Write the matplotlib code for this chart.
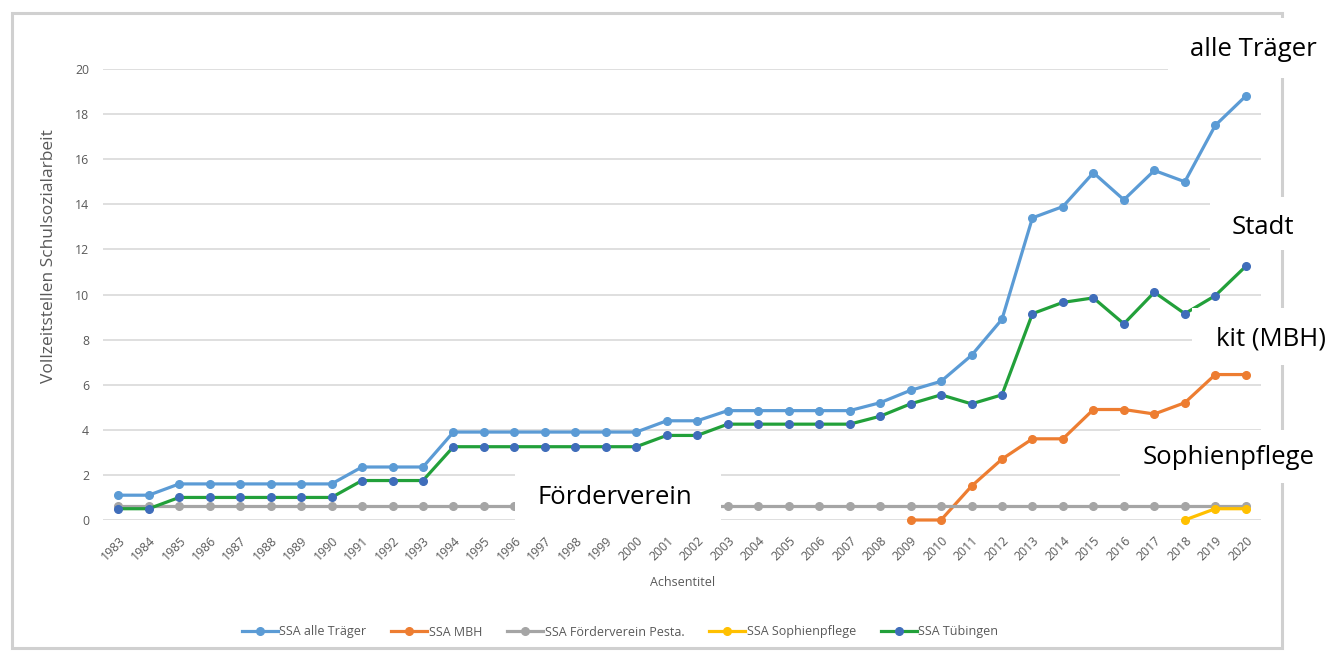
import matplotlib
matplotlib.use("Agg")
import matplotlib.pyplot as plt
from matplotlib.patches import Rectangle
from matplotlib.lines import Line2D

# ---------------- data ----------------
years = [1983, 1984, 1985, 1986, 1987, 1988, 1989, 1990, 1991, 1992,
         1993, 1994, 1995, 1996, 1997, 1998, 1999, 2000, 2001, 2002,
         2003, 2004, 2005, 2006, 2007, 2008, 2009, 2010, 2011, 2012,
         2013, 2014, 2015, 2016, 2017, 2018, 2019, 2020]

alle_traeger = [1.1, 1.1, 1.6, 1.6, 1.6, 1.6, 1.6, 1.6, 2.35, 2.35,
                2.35, 3.9, 3.9, 3.9, 3.9, 3.9, 3.9, 3.9, 4.4, 4.4,
                4.85, 4.85, 4.85, 4.85, 4.85, 5.2, 5.75, 6.15, 7.3, 8.9,
                13.4, 13.9, 15.4, 14.2, 15.5, 15.0, 17.5, 18.8]

mbh_years = [2009, 2010, 2011, 2012, 2013, 2014, 2015, 2016, 2017, 2018, 2019, 2020]
mbh = [0.0, 0.0, 1.5, 2.7, 3.6, 3.6, 4.9, 4.9, 4.7, 5.2, 6.45, 6.45]

foerderverein = [0.6, 0.6, 0.6, 0.6, 0.6, 0.6, 0.6, 0.6, 0.6, 0.6,
                 0.6, 0.6, 0.6, 0.6, 0.6, 0.6, 0.6, 0.6, 0.6, 0.6,
                 0.6, 0.6, 0.6, 0.6, 0.6, 0.6, 0.6, 0.6, 0.6, 0.6,
                 0.6, 0.6, 0.6, 0.6, 0.6, 0.6, 0.6, 0.6]

soph_years = [2018, 2019, 2020]
sophienpflege = [0.0, 0.5, 0.5]

tuebingen = [0.5, 0.5, 1.0, 1.0, 1.0, 1.0, 1.0, 1.0, 1.75, 1.75,
             1.75, 3.25, 3.25, 3.25, 3.25, 3.25, 3.25, 3.25, 3.75, 3.75,
             4.25, 4.25, 4.25, 4.25, 4.25, 4.6, 5.15, 5.55, 5.15, 5.55,
             9.15, 9.65, 9.85, 8.7, 10.1, 9.15, 9.95, 11.25]

legend_labels = ["SSA alle Träger", "SSA MBH", "SSA Förderverein Pesta.",
                 "SSA Sophienpflege", "SSA Tübingen"]
y_ticks = [0, 2, 4, 6, 8, 10, 12, 14, 16, 18, 20]
y_label = "Vollzeitstellen Schulsozialarbeit"
x_label = "Achsentitel"
annotations = ["alle Träger", "Stadt", "kit (MBH)", "Sophienpflege", "Förderverein"]

# ---------------- style ----------------
plt.rcParams['font.family'] = ['Open Sans', 'DejaVu Sans']
W, H = 1329, 651
fig = plt.figure(figsize=(W / 100, H / 100), dpi=100)
fig.patch.set_facecolor('white')

def fx(px):
    return px / W

def fy(py):
    return 1 - py / H

ax = fig.add_axes([fx(103), fy(520), fx(1261) - fx(103), fy(69) - fy(520)])
ax.set_facecolor('white')

c_alle = '#5B9BD5'
c_mbh = '#ED7D31'
c_foe = '#A5A5A5'
c_soph = '#FFC000'
c_tue_line = '#22A03A'
c_tue_mark = '#3F6DBA'
lw = 2.3
ms = 5.5

ax.plot(years, alle_traeger, color=c_alle, lw=lw, marker='o', ms=ms, zorder=3, clip_on=False)
ax.plot(mbh_years, mbh, color=c_mbh, lw=lw, marker='o', ms=ms, zorder=3, clip_on=False)
ax.plot(years, foerderverein, color=c_foe, lw=lw, marker='o', ms=ms, zorder=3, clip_on=False)
ax.plot(soph_years, sophienpflege, color=c_soph, lw=lw, marker='o', ms=ms, zorder=3, clip_on=False)
ax.plot(years, tuebingen, color=c_tue_line, lw=lw, marker='o', ms=ms,
        mfc=c_tue_mark, mec=c_tue_mark, zorder=3, clip_on=False)

ax.set_xlim(years[0] - 0.5, years[-1] + 0.5)
ax.set_ylim(0, 20)
ax.set_yticks(y_ticks)
ax.set_yticklabels([str(v) for v in y_ticks])
ax.set_xticks(years)
ax.set_xticklabels([str(y) for y in years], rotation=45, ha='right', va='top',
                   rotation_mode='anchor')
ax.grid(axis='y', color='#D9D9D9', lw=1.2, zorder=0)
ax.set_axisbelow(True)
for s in ax.spines.values():
    s.set_visible(False)
ax.tick_params(axis='both', length=0, colors='#595959', labelsize=8.8)
ax.tick_params(axis='y', pad=10)
ax.tick_params(axis='x', pad=10)

fig.text(fx(49), fy(256), y_label, rotation=90, ha='center', va='center',
         fontsize=12.5, color='#595959')
fig.text(fx(683), fy(583), x_label, ha='center', va='center',
         fontsize=9, color='#595959')

# legend
handles = [
    Line2D([], [], color=c_alle, lw=lw, marker='o', ms=ms),
    Line2D([], [], color=c_mbh, lw=lw, marker='o', ms=ms),
    Line2D([], [], color=c_foe, lw=lw, marker='o', ms=ms),
    Line2D([], [], color=c_soph, lw=lw, marker='o', ms=ms),
    Line2D([], [], color=c_tue_line, lw=lw, marker='o', ms=ms,
           mfc=c_tue_mark, mec=c_tue_mark),
]
leg = fig.legend(handles, legend_labels, loc='center',
                 bbox_to_anchor=(fx(620), fy(632)), ncol=5, frameon=False,
                 fontsize=9.0, handlelength=2.9, handletextpad=0.1,
                 columnspacing=2.0, labelcolor='#595959')

# outer chart border
fig.add_artist(Rectangle((fx(12), fy(648)), fx(1282) - fx(12), fy(13) - fy(648),
                         transform=fig.transFigure, fill=False,
                         edgecolor='#D0D0D0', lw=2.2, zorder=5))

# annotation boxes (px: x0, y0, x1, y1) and text centres
boxes = [(1168, 18, 1329, 78), (1210, 197, 1300, 250), (1192, 308, 1329, 365),
         (1120, 430, 1329, 483), (515, 472, 721, 520)]
text_pos = [(1253, 50), (1263, 228), (1271, 339), (1229, 458), (615, 497)]
for (x0, y0, x1, y1), (tx, ty), label in zip(boxes, text_pos, annotations):
    fig.add_artist(Rectangle((fx(x0), fy(y1)), fx(x1) - fx(x0), fy(y0) - fy(y1),
                             transform=fig.transFigure, facecolor='white',
                             edgecolor='none', zorder=10))
    fig.text(fx(tx), fy(ty), label, ha='center', va='center', fontsize=18.5,
             color='black', zorder=11)

fig.savefig('out.png', dpi=100, facecolor='white')
